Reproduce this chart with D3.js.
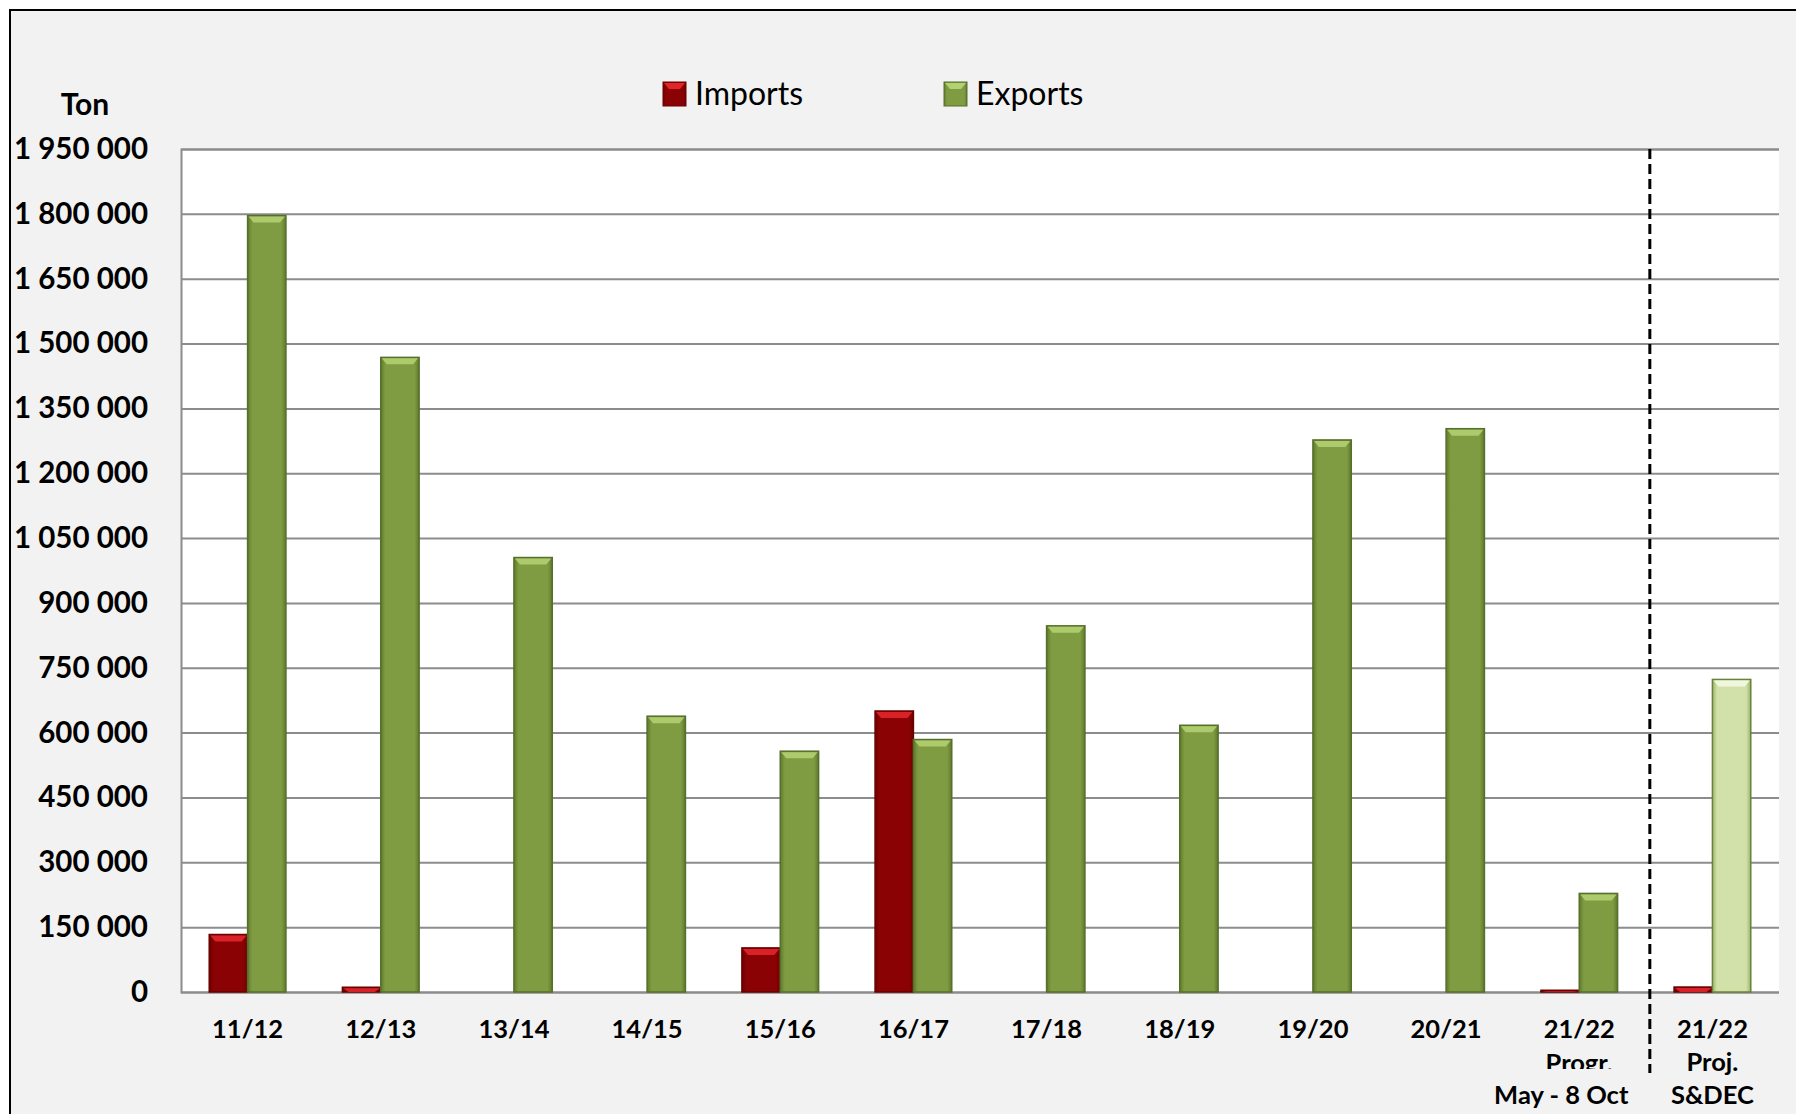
<!DOCTYPE html>
<html>
<head>
<meta charset="utf-8">
<script src="https://cdn.jsdelivr.net/npm/d3@7"></script>
<style>
  body { margin: 0; background: #ffffff; }
  text { font-family: Lato, "Open Sans", sans-serif; }
</style>
</head>
<body>
<script>
// chart data --------------------------------------------------------------
var seasons = ["11/12","12/13","13/14","14/15","15/16","16/17","17/18","18/19","19/20","20/21","21/22 Progr.","21/22 Proj."];
var labelLines = [["11/12"],["12/13"],["13/14"],["14/15"],["15/16"],["16/17"],["17/18"],["18/19"],["19/20"],["20/21"],
                  ["21/22","Progr.","May - 8 Oct"],["21/22","Proj.","S&DEC"]];
var imports = [133000, 11000, 0, 0, 102000, 650000, 0, 0, 0, 0, 4000, 11500];
var exports = [1796000, 1468000, 1005000, 638000, 557000, 584000, 847000, 617000, 1277000, 1303000, 228000, 723000];
var yTicks = [0,150000,300000,450000,600000,750000,900000,1050000,1200000,1350000,1500000,1650000,1800000,1950000];
var seriesNames = ["Imports","Exports"];

var svgWidth = 1796, svgHeight = 1114;
var plot = { left: 181, right: 1779, top: 149, bottom: 992 };

var svg = d3.select("body").append("svg")
  .attr("width", svgWidth)
  .attr("height", svgHeight);

// outer frame
svg.append("rect")
  .attr("x", 10).attr("y", 10)
  .attr("width", svgWidth + 20).attr("height", svgHeight + 20)
  .attr("fill", "#f2f2f2")
  .attr("stroke", "#000").attr("stroke-width", 2);

// plot area
svg.append("rect")
  .attr("x", plot.left).attr("y", plot.top)
  .attr("width", plot.right - plot.left).attr("height", plot.bottom - plot.top)
  .attr("fill", "#ffffff");

var x0 = d3.scaleBand()
  .domain(d3.range(seasons.length))
  .range([plot.left, plot.right])
  .paddingInner(0.424)
  .paddingOuter(0.212);

var x1 = d3.scaleBand()
  .domain(seriesNames)
  .range([0, x0.bandwidth()]);

var y = d3.scaleLinear()
  .domain([0, 1950000])
  .range([plot.bottom, plot.top]);

var fmt = function(v) { return d3.format(",")(v).replace(/,/g, " "); };

// gridlines + y labels
var yAxis = d3.axisLeft(y)
  .tickValues(yTicks)
  .tickSize(-(plot.right - plot.left))
  .tickPadding(33)
  .tickFormat(fmt);

var yG = svg.append("g")
  .attr("transform", `translate(${plot.left},0)`)
  .call(yAxis);
yG.select(".domain").attr("stroke", "#8c8c8c").attr("stroke-width", 2);
yG.selectAll(".tick line").attr("stroke", "#8c8c8c").attr("stroke-width", 2);
yG.selectAll(".tick text")
  .attr("fill", "#000")
  .attr("font-size", "29.5px")
  .attr("font-weight", "bold");

svg.append("text")
  .attr("x", 85).attr("y", 115)
  .attr("text-anchor", "middle")
  .attr("font-size", "30px")
  .attr("font-weight", "bold")
  .text("Ton");

// bars
var defs = svg.append("defs");
function edgeGradient(id, edge, mid) {
  var g = defs.append("linearGradient").attr("id", id)
    .attr("x1", "0%").attr("x2", "100%").attr("y1", "0%").attr("y2", "0%");
  g.append("stop").attr("offset", "0%").attr("stop-color", edge);
  g.append("stop").attr("offset", "12%").attr("stop-color", mid);
  g.append("stop").attr("offset", "88%").attr("stop-color", mid);
  g.append("stop").attr("offset", "100%").attr("stop-color", edge);
}
edgeGradient("gImp", "#6e0000", "#8a0204");
edgeGradient("gExp", "#5f7a2c", "#7f9c43");
edgeGradient("gProj", "#9cb26a", "#d1e1a9");

var styles = {
  Imports: { fill: "url(#gImp)", stroke: "#6a0000", top: "#e0262b" },
  Exports: { fill: "url(#gExp)", stroke: "#55702a", top: "#b3d072" },
  Proj:    { fill: "url(#gProj)", stroke: "#67833a", top: "#f4f9e4" }
};

var barData = [];
seasons.forEach(function(s, i) {
  barData.push({ i: i, key: "Imports", value: imports[i], style: styles.Imports });
  barData.push({ i: i, key: "Exports", value: exports[i], style: i === seasons.length - 1 ? styles.Proj : styles.Exports });
});
barData = barData.filter(function(d) { return d.value > 0; });

var bars = svg.append("g").selectAll("g.bar")
  .data(barData)
  .enter().append("g").attr("class", "bar");

bars.append("rect")
  .attr("x", function(d) { return x0(d.i) + x1(d.key); })
  .attr("y", function(d) { return y(d.value); })
  .attr("width", x1.bandwidth())
  .attr("height", function(d) { return y(0) - y(d.value); })
  .attr("fill", function(d) { return d.style.fill; })
  .attr("stroke", function(d) { return d.style.stroke; })
  .attr("stroke-width", 1.5);

// top bevel highlight
bars.append("polygon")
  .attr("points", function(d) {
    var bx = x0(d.i) + x1(d.key), bw = x1.bandwidth(), by = y(d.value);
    var h = Math.min(7, y(0) - by);
    return [[bx + 1, by + 1], [bx + bw - 1, by + 1], [bx + bw - 6, by + h], [bx + 6, by + h]].join(" ");
  })
  .attr("fill", function(d) { return d.style.top; })
  .attr("opacity", 0.9);

// x labels
var clip = defs.append("clipPath").attr("id", "cutLine");
clip.append("rect").attr("x", 0).attr("y", 0).attr("width", svgWidth).attr("height", 1069);

var xl = svg.append("g").selectAll("text.xl")
  .data(labelLines)
  .enter().append("text")
  .attr("class", "xl")
  .attr("text-anchor", "middle")
  .attr("font-size", "25.5px")
  .attr("font-weight", "bold")
  .attr("fill", "#000");

xl.each(function(lines, i) {
  var t = d3.select(this);
  var cx = x0(i) + x0.bandwidth() / 2;
  lines.forEach(function(line, k) {
    t.append("tspan")
      .attr("x", k === 2 && i === 10 ? cx - 18 : cx)
      .attr("y", 1038 + k * 33)
      .text(line);
  });
});
// the "Progr." line is cut at the bottom in the source
xl.filter(function(d, i) { return i === 10; }).selectAll("tspan")
  .filter(function(d, k) { return k === 1; })
  .remove();
svg.append("text")
  .attr("x", x0(10) + x0.bandwidth() / 2)
  .attr("y", 1072)
  .attr("text-anchor", "middle")
  .attr("font-size", "25.5px")
  .attr("font-weight", "bold")
  .attr("clip-path", "url(#cutLine)")
  .text(labelLines[10][1]);

// dashed separator between progress and projection
var sepX = plot.left + 11 * x0.step() + 4;
svg.append("line")
  .attr("x1", sepX).attr("x2", sepX)
  .attr("y1", plot.top).attr("y2", 1073)
  .attr("stroke", "#000")
  .attr("stroke-width", 3)
  .attr("stroke-dasharray", "10,5");

// legend
var legend = svg.append("g").selectAll("g.lg")
  .data(seriesNames)
  .enter().append("g")
  .attr("transform", function(d, i) { return `translate(${663 + i * 281},82)`; });
legend.append("rect")
  .attr("width", 23).attr("height", 24)
  .attr("fill", function(d) { return d === "Imports" ? "url(#gImp)" : "url(#gExp)"; })
  .attr("stroke", function(d) { return styles[d].stroke; });
legend.append("polygon")
  .attr("points", "1,1 22,1 17,7 6,7")
  .attr("fill", function(d) { return styles[d].top; });
legend.append("text")
  .attr("x", 32).attr("y", 23)
  .attr("font-size", "32px")
  .text(function(d) { return d; });
</script>
</body>
</html>
